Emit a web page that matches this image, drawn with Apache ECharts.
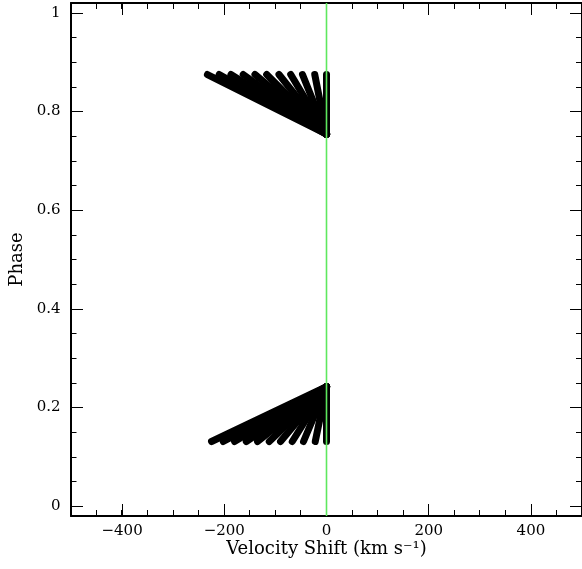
<!DOCTYPE html>
<html>
<head>
<meta charset="utf-8">
<script src="https://cdn.jsdelivr.net/npm/echarts@6/dist/echarts.min.js"></script>
<style>
html,body{margin:0;padding:0;background:#fff;}
#c{width:582px;height:569px;}
</style>
</head>
<body>
<div id="c"></div>
<script>
// ---- data ----
var upperStartV = [-233, -210, -187, -163, -140, -117, -93, -70, -47, -23, 0];
var upperStartPhase = 0.875;
var upperMeetV = 0;
var upperMeetPhase = 0.754;

var lowerStartV = [-225, -202, -180, -157, -135, -112, -90, -67, -45, -22, 0];
var lowerStartPhase = 0.131;
var lowerMeetV = 0;
var lowerMeetPhase = 0.242;

var refLineV = 0;

var xMajorTicks = [-400, -200, 0, 200, 400];
var xMinorTicks = [-450, -400, -350, -300, -250, -200, -150, -100, -50, 0, 50, 100, 150, 200, 250, 300, 350, 400, 450];
var yMajorTicks = [0, 0.2, 0.4, 0.6, 0.8, 1];
var yMinorTicks = [0, 0.05, 0.1, 0.15, 0.2, 0.25, 0.3, 0.35, 0.4, 0.45, 0.5, 0.55, 0.6, 0.65, 0.7, 0.75, 0.8, 0.85, 0.9, 0.95, 1];
var xRange = [-500, 500];
var yRange = [-0.02, 1.02];

// ---- chart ----
var FONT = 'DejaVu Serif';
var chart = echarts.init(document.getElementById('c'), null, {renderer: 'canvas'});

function fmtX(v) { return v < 0 ? '\u2212' + (-v) : String(v); }

function xAxisDef(grid, pos, major, withLabel) {
  return {
    type: 'value', gridIndex: grid, position: pos,
    min: xRange[0], max: xRange[1],
    axisLine: {show: major, onZero: false, lineStyle: {color: '#000', width: 2}},
    axisTick: {show: true, inside: true, length: major ? 12 : 6,
      customValues: major ? xMajorTicks : xMinorTicks,
      lineStyle: {color: '#000', width: 1}},
    axisLabel: {show: withLabel, customValues: xMajorTicks, formatter: fmtX,
      color: '#000', fontFamily: FONT, fontSize: 15, margin: 8},
    splitLine: {show: false},
    name: withLabel ? 'Velocity Shift (km s\u207B\u00B9)' : '',
    nameLocation: 'middle', nameGap: 24, nameMoveOverlap: false,
    nameTextStyle: {color: '#000', fontFamily: FONT, fontSize: 18}
  };
}
function yAxisDef(grid, pos, major, withLabel) {
  return {
    type: 'value', gridIndex: grid, position: pos,
    min: yRange[0], max: yRange[1],
    axisLine: {show: major, onZero: false, lineStyle: {color: '#000', width: 2}},
    axisTick: {show: true, inside: true, length: major ? 12 : 6,
      customValues: major ? yMajorTicks : yMinorTicks,
      lineStyle: {color: '#000', width: 1}},
    axisLabel: {show: withLabel, customValues: yMajorTicks,
      formatter: function (v) { return String(v); },
      color: '#000', fontFamily: FONT, fontSize: 15, margin: 10.5},
    splitLine: {show: false},
    name: withLabel ? 'Phase' : '',
    nameLocation: 'middle', nameGap: 45, nameMoveOverlap: false,
    nameTextStyle: {color: '#000', fontFamily: FONT, fontSize: 18}
  };
}

var series = [];
function addFan(startV, startPhase, meetV, meetPhase) {
  for (var i = 0; i < startV.length; i++) {
    series.push({
      type: 'line', xAxisIndex: 0, yAxisIndex: 0,
      data: [[startV[i], startPhase], [meetV, meetPhase]],
      symbol: 'none', silent: true, z: 2,
      lineStyle: {color: '#000', width: 7, cap: 'round', join: 'round'}
    });
  }
}
addFan(upperStartV, upperStartPhase, upperMeetV, upperMeetPhase);
addFan(lowerStartV, lowerStartPhase, lowerMeetV, lowerMeetPhase);
series.push({
  type: 'line', xAxisIndex: 0, yAxisIndex: 0,
  data: [[refLineV, yRange[0]], [refLineV, yRange[1]]],
  symbol: 'none', silent: true, z: 5,
  lineStyle: {color: '#5ee85e', width: 1.6}
});

var gridRect = {left: 70.5, top: 3, width: 515, height: 513, containLabel: false};
chart.setOption({
  animation: false,
  backgroundColor: '#fff',
  grid: [Object.assign({}, gridRect), Object.assign({}, gridRect)],
  xAxis: [
    xAxisDef(0, 'bottom', true, true),
    xAxisDef(0, 'top', true, false),
    xAxisDef(1, 'bottom', false, false),
    xAxisDef(1, 'top', false, false)
  ],
  yAxis: [
    yAxisDef(0, 'left', true, true),
    yAxisDef(0, 'right', true, false),
    yAxisDef(1, 'left', false, false),
    yAxisDef(1, 'right', false, false)
  ],
  series: series
});
</script>
</body>
</html>
